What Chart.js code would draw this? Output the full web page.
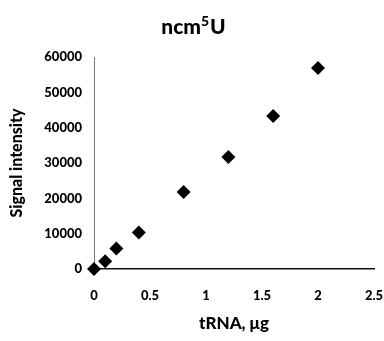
<!DOCTYPE html>
<html>
<head>
<meta charset="utf-8">
<script src="https://cdn.jsdelivr.net/npm/chart.js@4"></script>
<style>
  html, body { margin: 0; padding: 0; background: #fff; }
  #wrap { width: 384px; height: 341px; position: relative; }
</style>
</head>
<body>
<div id="wrap"><canvas id="chart"></canvas></div>
<script>
// --- Data ---
const trnaAmounts = [0, 0.1, 0.2, 0.4, 0.8, 1.2, 1.6, 2.0];
const signalValues = [0, 2200, 5800, 10300, 21800, 31700, 43300, 56900];
const xTicks = [0, 0.5, 1, 1.5, 2, 2.5];
const yTicks = [0, 10000, 20000, 30000, 40000, 50000, 60000];

const FONT = "Lato, 'Open Sans', sans-serif";

// draws "ncm5U" with a raised 5
const titlePlugin = {
  id: "superTitle",
  afterDraw(chart) {
    const ctx = chart.ctx;
    const parts = [
      { t: "ncm", size: 21, dy: 0 },
      { t: "5", size: 14, dy: -8 },
      { t: "U", size: 21, dy: 0 },
    ];
    ctx.save();
    ctx.fillStyle = "#000";
    ctx.textBaseline = "alphabetic";
    let total = 0;
    parts.forEach((p) => {
      ctx.font = `900 ${p.size}px ${FONT}`;
      p.w = ctx.measureText(p.t).width;
      total += p.w;
    });
    let x = 193 - total / 2;
    parts.forEach((p) => {
      ctx.font = `900 ${p.size}px ${FONT}`;
      ctx.fillText(p.t, x, 34 + p.dy);
      x += p.w + (p.t === "5" ? 1 : 0);
    });
    ctx.restore();
  },
};

new Chart(document.getElementById("chart"), {
  type: "scatter",
  data: {
    datasets: [
      {
        data: trnaAmounts.map((x, i) => ({ x, y: signalValues[i] })),
        pointStyle: "rectRot",
        radius: 7,
        backgroundColor: "#000",
        borderColor: "#000",
        borderWidth: 0,
        clip: false,
      },
    ],
  },
  options: {
    responsive: true,
    maintainAspectRatio: false,
    animation: false,
    layout: { padding: { top: 57, right: 0, left: 0, bottom: 0 } },
    plugins: { legend: { display: false }, tooltip: { enabled: false } },
    scales: {
      x: {
        type: "linear",
        min: 0,
        max: 2.5,
        afterBuildTicks: (s) => { s.ticks = xTicks.map((v) => ({ value: v })); },
        afterFit: (s) => {
          s.height = 72;
          s.paddingLeft = 0;
          s.paddingRight = 10;
        },
        grid: { display: false, drawTicks: false },
        border: { display: true, color: "#111", width: 1.5 },
        ticks: {
          color: "#000",
          padding: 19,
          font: { family: FONT, size: 13, weight: "900" },
          callback: (v) => String(v),
        },
        title: {
          display: true,
          text: "tRNA, μg",
          color: "#000",
          padding: { top: 0, bottom: 7 },
          font: { family: FONT, size: 17, weight: "900" },
        },
      },
      y: {
        min: 0,
        max: 60000,
        afterBuildTicks: (s) => { s.ticks = yTicks.map((v) => ({ value: v })); },
        afterFit: (s) => { s.width = 94; },
        grid: { display: false, drawTicks: false },
        border: { display: true, color: "#777", width: 1 },
        ticks: {
          color: "#000",
          padding: 12,
          font: { family: FONT, size: 13, weight: "900" },
          callback: (v) => String(v),
        },
        title: {
          display: true,
          text: "Signal intensity",
          color: "#000",
          padding: { top: 7, bottom: 0 },
          font: { family: FONT, size: 16, weight: "900" },
        },
      },
    },
  },
  plugins: [titlePlugin],
});
</script>
</body>
</html>
